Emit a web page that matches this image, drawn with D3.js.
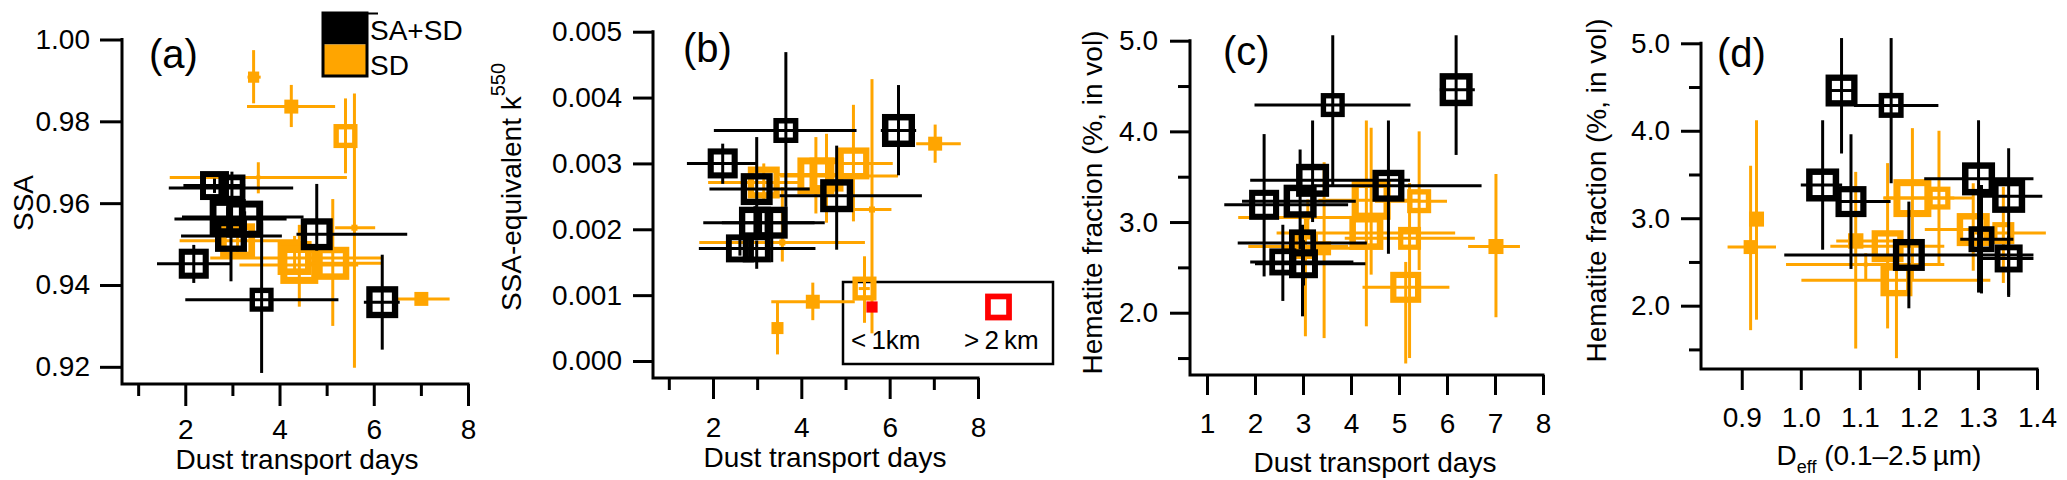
<!DOCTYPE html>
<html>
<head>
<meta charset="utf-8">
<script src="https://cdn.jsdelivr.net/npm/d3@7"></script>
<style>
  body { margin: 0; background: #fff; }
  svg text { font-family: "Liberation Sans", Arial, Helvetica, sans-serif; }
</style>
</head>
<body>
<div id="chart"></div>
<script>
// each row: [x, y, xLow, xHigh, yLow, yHigh, altitude km]
const ssaBlack = [
  [2.18, 0.9452, 1.40, 2.95, 0.9405, 0.9498, 2.17],
  [3.62, 0.9364, 2.00, 5.25, 0.9185, 0.9553, 1.67],
  [6.18, 0.9358, 5.79, 6.55, 0.9242, 0.9474, 2.33],
  [4.79, 0.9524, 4.36, 6.71, 0.9484, 0.9647, 2.33],
  [2.62, 0.9643, 1.96, 3.27, 0.9625, 0.9660, 2.08],
  [2.99, 0.9637, 1.65, 4.29, 0.9600, 0.9677, 1.92],
  [2.90, 0.9566, 1.93, 4.51, 0.9545, 0.9590, 2.67],
  [3.26, 0.9561, 1.77, 4.15, 0.9535, 0.9580, 2.75],
  [2.97, 0.9520, 1.91, 4.05, 0.9409, 0.9600, 2.33],
]
const ssaOrange = [
  [3.45, 0.9908, 3.32, 3.60, 0.9844, 0.9974, 0.6],
  [4.25, 0.9836, 3.31, 5.18, 0.9786, 0.9889, 0.83],
  [5.40, 0.9764, 5.40, 5.40, 0.9673, 0.9856, 1.67],
  [3.55, 0.9663, 1.67, 5.43, 0.9624, 0.9700, 0.0],
  [3.11, 0.9508, 1.88, 4.40, 0.9470, 0.9545, 2.58],
  [4.32, 0.9466, 2.53, 6.20, 0.9430, 0.9520, 2.5],
  [4.42, 0.9449, 3.15, 5.67, 0.9347, 0.9547, 2.83],
  [5.13, 0.9453, 4.65, 6.19, 0.9300, 0.9610, 2.42],
  [5.59, 0.9540, 5.18, 6.03, 0.9198, 0.9868, 0.17],
  [7.01, 0.9366, 6.48, 7.61, 0.9360, 0.9372, 0.83],
]
const kBlack = [
  [2.22, 0.00300, 1.41, 3.00, 0.00269, 0.00330, 2.17],
  [3.65, 0.00350, 2.02, 5.25, 0.00234, 0.00469, 1.75],
  [6.20, 0.00350, 5.80, 6.60, 0.00282, 0.00419, 2.42],
  [4.80, 0.00251, 3.51, 6.73, 0.00169, 0.00327, 2.42],
  [2.99, 0.00261, 1.92, 4.19, 0.00234, 0.00340, 2.33],
  [2.95, 0.00210, 1.78, 4.53, 0.00190, 0.00235, 2.33],
  [3.33, 0.00210, 2.20, 4.30, 0.00150, 0.00230, 2.33],
  [2.61, 0.00171, 1.68, 4.32, 0.00160, 0.00185, 2.0],
  [2.99, 0.00171, 2.20, 3.90, 0.00140, 0.00183, 2.0],
]
const kOrange = [
  [7.03, 0.00330, 6.60, 7.61, 0.00301, 0.00359, 0.83],
  [5.18, 0.00300, 4.80, 6.07, 0.00212, 0.00389, 2.33],
  [4.33, 0.00281, 3.52, 6.19, 0.00224, 0.00340, 2.75],
  [4.57, 0.00283, 3.40, 5.50, 0.00210, 0.00345, 2.5],
  [3.15, 0.00271, 1.89, 3.97, 0.00240, 0.00300, 2.33],
  [5.43, 0.00110, 5.30, 5.55, 0.00058, 0.00159, 1.67],
  [4.26, 0.00090, 3.32, 5.21, 0.00062, 0.00119, 0.83],
  [3.46, 0.00050, 3.35, 3.55, 0.00010, 0.00090, 0.67],
  [5.60, 0.00230, 5.16, 6.04, 0.00042, 0.00428, 0.17],
  [3.57, 0.00180, 1.69, 5.44, 0.00151, 0.00264, 0.17],
]
const hemDaysBlack = [
  [3.62, 4.29, 1.99, 5.24, 3.40, 5.06, 1.67],
  [6.19, 4.46, 5.85, 6.58, 3.74, 5.06, 2.42],
  [2.19, 3.19, 1.36, 3.94, 2.40, 3.97, 2.17],
  [2.94, 3.23, 1.73, 4.10, 2.70, 3.80, 2.42],
  [3.20, 3.46, 1.90, 5.23, 3.00, 4.12, 2.42],
  [4.78, 3.40, 3.20, 6.72, 2.65, 4.12, 2.33],
  [2.99, 2.77, 1.64, 4.33, 1.96, 2.97, 1.92],
  [2.58, 2.56, 1.90, 4.05, 2.13, 2.97, 1.92],
  [3.01, 2.54, 2.00, 4.30, 2.30, 2.80, 2.08],
]
const hemDaysOrange = [
  [7.02, 2.73, 6.44, 7.52, 1.95, 3.53, 0.92],
  [5.14, 2.28, 4.24, 6.05, 1.44, 2.56, 2.25],
  [4.42, 3.24, 3.32, 5.44, 2.42, 4.04, 2.92],
  [4.32, 2.88, 2.45, 6.17, 1.85, 4.12, 2.5],
  [5.42, 3.23, 4.50, 6.00, 2.47, 4.00, 1.67],
  [5.22, 2.82, 3.87, 6.58, 1.50, 3.43, 1.58],
  [3.05, 2.73, 1.86, 3.94, 1.74, 3.11, 1.75],
  [3.44, 2.71, 2.60, 4.30, 1.72, 3.66, 0.83],
  [3.10, 3.05, 1.65, 4.70, 2.85, 3.25, 0.0],
]
const hemDeffBlack = [
  [1.069, 4.46, 1.045, 1.095, 3.74, 5.06, 2.33],
  [1.153, 4.29, 1.090, 1.233, 3.40, 5.06, 1.75],
  [1.037, 3.38, 1.000, 1.070, 2.64, 4.12, 2.42],
  [1.085, 3.19, 1.061, 1.152, 2.42, 3.96, 2.25],
  [1.301, 3.45, 1.209, 1.394, 2.15, 4.12, 2.42],
  [1.352, 3.25, 1.300, 1.409, 2.12, 3.80, 2.42],
  [1.183, 2.58, 0.972, 1.394, 1.97, 3.19, 2.33],
  [1.306, 2.76, 1.270, 1.360, 2.14, 3.38, 1.83],
  [1.352, 2.54, 1.300, 1.394, 2.10, 2.80, 2.0],
]
const hemDeffOrange = [
  [0.925, 2.99, 0.915, 0.935, 1.84, 4.12, 0.92],
  [0.915, 2.67, 0.876, 0.958, 1.72, 3.60, 0.83],
  [1.093, 2.74, 1.060, 1.160, 1.51, 3.53, 0.95],
  [1.147, 2.68, 1.050, 1.243, 1.74, 3.63, 2.33],
  [1.162, 2.29, 1.001, 1.321, 1.40, 2.48, 2.33],
  [1.189, 3.23, 1.140, 1.260, 2.30, 4.03, 2.83],
  [1.234, 3.23, 1.140, 1.290, 2.47, 4.00, 1.58],
  [1.292, 2.87, 1.210, 1.330, 2.40, 3.40, 2.42],
  [1.343, 2.83, 1.294, 1.415, 2.26, 3.36, 1.5],
  [1.110, 2.47, 0.975, 1.243, 2.30, 2.60, 0.0],
]

const daysTicks = [2, 4, 6, 8]
const daysMinor = [1, 3, 5, 7]
const daysTicksAll = [1, 2, 3, 4, 5, 6, 7, 8]
const deffTicks = [0.9, 1.0, 1.1, 1.2, 1.3, 1.4]
const ssaTicks = [0.92, 0.94, 0.96, 0.98, 1.0]
const kTicks = [0, 0.001, 0.002, 0.003, 0.004, 0.005]
const hemTicks = [2, 3, 4, 5]
const hemMinor = [1.5, 2.5, 3.5, 4.5]
const seriesNames = ['SA+SD', 'SD']
const altLegend = ['<\u20091km', '>\u20092\u2009km']
const altLegendValues = [0.6, 1.9]

const black = '#000'
const orange = '#ffa500'
const fontSize = 28

const sizeScale = d3.scaleLinear().domain([0, 3]).range([4, 40])

const svg = d3.select('#chart')
  .append('svg')
  .attr('width', 2067)
  .attr('height', 480)
  .attr('viewBox', '0 0 2067 480')

// draws one marker (open square if above 1 km, filled below)
function marker(g, cx, cy, alt, color) {
  const s = sizeScale(alt)
  if (alt < 1) {
    g.append('rect')
      .attr('x', cx - s / 2).attr('y', cy - s / 2)
      .attr('width', s).attr('height', s)
      .attr('fill', color)
  } else {
    const sw = 2.5 + s * 0.12
    g.append('rect')
      .attr('x', cx - (s - sw) / 2).attr('y', cy - (s - sw) / 2)
      .attr('width', s - sw).attr('height', s - sw)
      .attr('fill', 'none')
      .attr('stroke', color)
      .attr('stroke-width', sw)
  }
}

function drawSeries(g, x, y, rows, color) {
  const grp = g.append('g')
  rows.forEach((d) => {
    grp.append('line')
      .attr('x1', x(d[2])).attr('x2', x(d[3]))
      .attr('y1', y(d[1])).attr('y2', y(d[1]))
      .attr('stroke', color).attr('stroke-width', 3)
    grp.append('line')
      .attr('x1', x(d[0])).attr('x2', x(d[0]))
      .attr('y1', y(d[4])).attr('y2', y(d[5]))
      .attr('stroke', color).attr('stroke-width', 3)
    marker(grp, x(d[0]), y(d[1]), d[6], color)
  })
}

function panel(o) {
  const g = svg.append('g')
  const x = d3.scaleLinear().domain(o.xDomain).range(o.xRange)
  const y = d3.scaleLinear().domain(o.yDomain).range(o.yRange)
  const x0 = o.xRange[0], y0 = o.yRange[0]

  if (o.before) o.before(g, x, y)

  drawSeries(g, x, y, o.orange, orange)
  drawSeries(g, x, y, o.black, black)

  if (o.after) o.after(g, x, y)

  // axes
  const xa = g.append('g').attr('transform', `translate(0,${y0})`)
    .call(d3.axisBottom(x).tickValues(o.xTicks).tickSize(o.xTickSize).tickSizeOuter(0)
      .tickFormat(o.xFormat))
  xa.select('.domain').remove()
  xa.selectAll('line').attr('stroke-width', 3)
  xa.selectAll('text').attr('font-size', fontSize).attr('y', o.xLabelOffset).attr('dy', 0)
    .attr('fill', black)
  if (o.xMinor) {
    const xm = g.append('g').attr('transform', `translate(0,${y0})`)
      .call(d3.axisBottom(x).tickValues(o.xMinor).tickSize(12).tickFormat(''))
    xm.select('.domain').remove()
    xm.selectAll('line').attr('stroke-width', 3)
  }

  const ya = g.append('g').attr('transform', `translate(${x0},0)`)
    .call(d3.axisLeft(y).tickValues(o.yTicks).tickSize(o.yTickSize).tickPadding(o.yPad)
      .tickFormat(o.yFormat))
  ya.select('.domain').remove()
  ya.selectAll('line').attr('stroke-width', 3)
  ya.selectAll('text').attr('font-size', fontSize).attr('fill', black)
  if (o.yMinor) {
    const ym = g.append('g').attr('transform', `translate(${x0},0)`)
      .call(d3.axisLeft(y).tickValues(o.yMinor).tickSize(12).tickFormat(''))
    ym.select('.domain').remove()
    ym.selectAll('line').attr('stroke-width', 3)
  }

  g.append('path')
    .attr('d', `M${x0},${o.yRange[1]}V${y0}H${o.xRange[1]}`)
    .attr('fill', 'none').attr('stroke', black).attr('stroke-width', 3)
    .attr('stroke-linecap', 'square')

  // panel tag
  g.append('text').attr('x', o.tag[1]).attr('y', o.tag[2])
    .attr('font-size', 40).text(o.tag[0])

  // axis titles
  o.xTitle(g.append('text').attr('text-anchor', 'middle').attr('font-size', fontSize))
  o.yTitle(g.append('text').attr('text-anchor', 'middle').attr('font-size', fontSize))
  return g
}

// (a)
const pa = panel({
  xDomain: [0.657, 8], xRange: [122, 468],
  yDomain: [0.9158, 1.0], yRange: [384, 39.5],
  xTicks: daysTicks, xMinor: daysMinor, xTickSize: 22, xLabelOffset: 55, xFormat: d3.format('d'),
  yTicks: ssaTicks, yTickSize: 22, yPad: 10, yFormat: d3.format('.2f'),
  black: ssaBlack, orange: ssaOrange,
  tag: ['(a)', 149, 68],
  xTitle: (t) => t.attr('x', 297).attr('y', 469).text('Dust transport days'),
  yTitle: (t) => t.attr('transform', 'translate(33,203) rotate(-90)').text('SSA'),
})

// series legend in (a)
const lg = pa.append('g')
seriesNames.forEach((name, i) => {
  lg.append('rect')
    .attr('x', 323).attr('y', 13 + i * 31.5)
    .attr('width', 44).attr('height', 31.5)
    .attr('fill', i === 0 ? black : orange)
  lg.append('text')
    .attr('x', 370).attr('y', 40 + i * 35)
    .attr('font-size', fontSize)
    .text(name)
})
lg.append('rect').attr('x', 323).attr('y', 13).attr('width', 44).attr('height', 63)
  .attr('fill', 'none').attr('stroke', black).attr('stroke-width', 3)
lg.append('line').attr('x1', 323).attr('x2', 378).attr('y1', 13.5).attr('y2', 13.5)
  .attr('stroke', black).attr('stroke-width', 2)

// (b)
panel({
  xDomain: [0.642, 8], xRange: [653, 978],
  yDomain: [-0.000258, 0.005], yRange: [378, 31.7],
  xTicks: daysTicks, xMinor: daysMinor, xTickSize: 21, xLabelOffset: 59, xFormat: d3.format('d'),
  yTicks: kTicks, yTickSize: 20, yPad: 11, yFormat: d3.format('.3f'),
  black: kBlack, orange: kOrange,
  tag: ['(b)', 683, 62],
  // altitude legend: frame under the data, symbols and text above it
  before: (g) => {
    g.append('rect').attr('x', 843).attr('y', 282).attr('width', 210).attr('height', 82)
      .attr('fill', 'none').attr('stroke', black).attr('stroke-width', 2.5)
  },
  after: (g) => {
    const box = g.append('g')
    const cx = [872, 998.5]
    altLegendValues.forEach((a, i) => {
      marker(box, cx[i], 307, a, '#ff0000')
      box.append('text').attr('x', [851, 964][i]).attr('y', 349)
        .attr('font-size', 26).text(altLegend[i])
    })
  },
  xTitle: (t) => t.attr('x', 825).attr('y', 467).text('Dust transport days'),
  yTitle: (t) => {
    t.attr('transform', 'translate(521,187) rotate(-90)')
    t.append('tspan').text('SSA-equivalent k')
    t.append('tspan').attr('font-size', 20).attr('dy', -16).text('550')
  },
})

// (c)
panel({
  xDomain: [0.646, 8], xRange: [1190, 1543],
  yDomain: [1.313, 5.0], yRange: [375, 40.7],
  xTicks: daysTicksAll, xTickSize: 20, xLabelOffset: 58, xFormat: d3.format('d'),
  yTicks: hemTicks, yMinor: hemMinor, yTickSize: 20, yPad: 12, yFormat: d3.format('.1f'),
  black: hemDaysBlack, orange: hemDaysOrange,
  tag: ['(c)', 1223, 65],
  xTitle: (t) => t.attr('x', 1375).attr('y', 472).text('Dust transport days'),
  yTitle: (t) => t.attr('transform', 'translate(1102,202.5) rotate(-90)')
    .text('Hematite fraction (%, in vol)'),
})

// (d)
panel({
  xDomain: [0.831, 1.4], xRange: [1701, 2037],
  yDomain: [1.276, 5.0], yRange: [369, 43.3],
  xTicks: deffTicks, xTickSize: 21, xLabelOffset: 58, xFormat: d3.format('.1f'),
  yTicks: hemTicks, yMinor: hemMinor, yTickSize: 20, yPad: 11, yFormat: d3.format('.1f'),
  black: hemDeffBlack, orange: hemDeffOrange,
  tag: ['(d)', 1717, 66.5],
  xTitle: (t) => {
    t.attr('x', 1879).attr('y', 465)
    t.append('tspan').text('D')
    t.append('tspan').attr('font-size', 18).attr('dy', 8).text('eff')
    t.append('tspan').attr('dy', -8).text(' (0.1\u20132.5\u2009\u00b5m)')
  },
  yTitle: (t) => t.attr('transform', 'translate(1606,190.5) rotate(-90)')
    .text('Hematite fraction (%, in vol)'),
})
</script>
</body>
</html>
